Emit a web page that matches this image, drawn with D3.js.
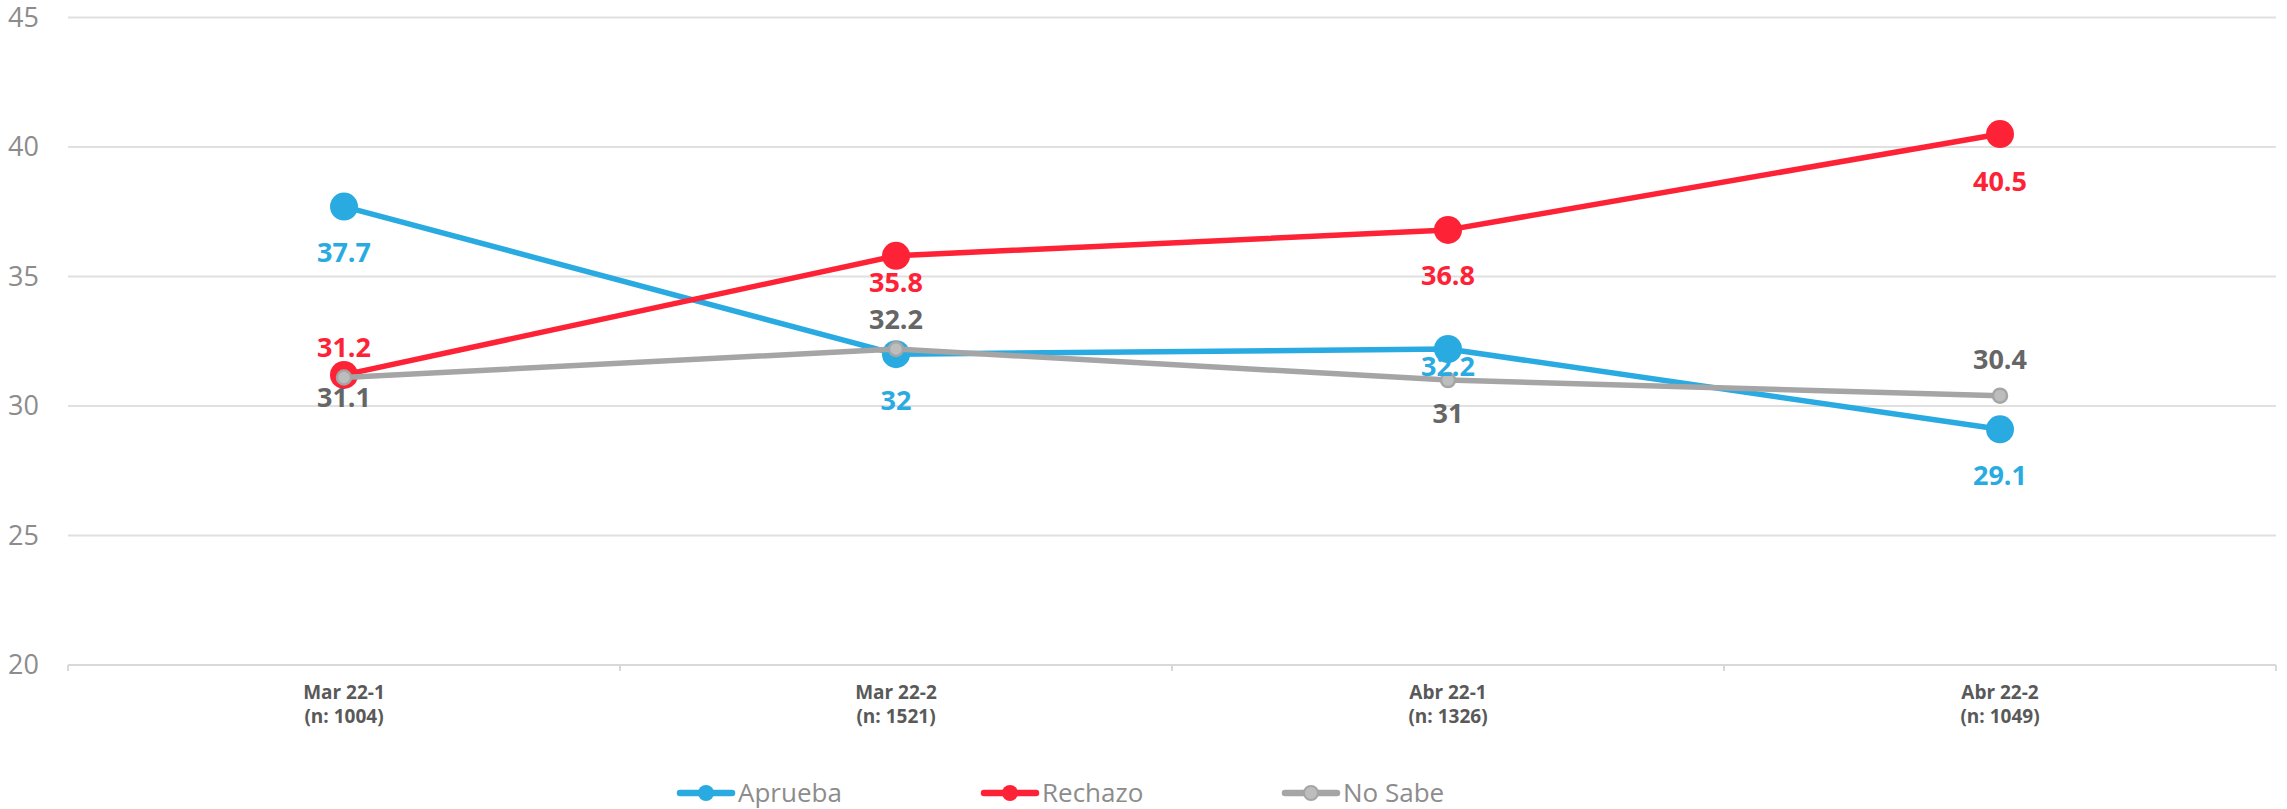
<!DOCTYPE html>
<html>
<head>
<meta charset="utf-8">
<script src="https://cdn.jsdelivr.net/npm/d3@7"></script>
<style>
  html, body { margin: 0; padding: 0; background: #ffffff; }
  svg { display: block; }
</style>
</head>
<body>
<svg id="chart" width="2287" height="809"></svg>
<script>
// Survey waves shown on the x axis (two-line labels)
const categories = ["Mar 22-1", "Mar 22-2", "Abr 22-1", "Abr 22-2"];
const sampleSizes = ["(n: 1004)", "(n: 1521)", "(n: 1326)", "(n: 1049)"];

// Series values
const seriesNames = ["Aprueba", "Rechazo", "No Sabe"];
const aprueba = [37.7, 32, 32.2, 29.1];
const rechazo = [31.2, 35.8, 36.8, 40.5];
const noSabe = [31.1, 32.2, 31, 30.4];

// Y axis ticks
const yTicks = [20, 25, 30, 35, 40, 45];

// ---- layout & style ----
const W = 2287, H = 809;
const plot = { left: 68, right: 2276, top: 17.5, bottom: 665 };
const colors = { "Aprueba": "#29abe2", "Rechazo": "#fe2236", "No Sabe": "#a5a5a5" };
const labelColors = { "Aprueba": "#29abe2", "Rechazo": "#fe2236", "No Sabe": "#666666" };
// vertical offset of each value label from its point (px)
const labelDy = {
  "Aprueba": [46, 46, 18, 46],
  "Rechazo": [-27, 27, 46, 47],
  "No Sabe": [20, -29, 33, -36]
};

const svg = d3.select("#chart");

const x = d3.scaleBand().domain(categories).range([plot.left, plot.right]);
const y = d3.scaleLinear().domain([20, 45]).range([plot.bottom, plot.top]);
const cx = c => x(c) + x.bandwidth() / 2;

// Horizontal gridlines
svg.append("g")
  .selectAll("line")
  .data(yTicks.filter(t => t !== 20))
  .join("line")
  .attr("x1", plot.left).attr("x2", plot.right)
  .attr("y1", d => y(d)).attr("y2", d => y(d))
  .attr("stroke", "#e0e0e0").attr("stroke-width", 2);

// Y axis labels
const yAxis = d3.axisLeft(y).tickValues(yTicks).tickSize(0).tickPadding(29);
const gy = svg.append("g").attr("transform", `translate(${plot.left},0)`).call(yAxis);
gy.select(".domain").remove();
gy.selectAll("text")
  .attr("font-family", "'Open Sans', sans-serif")
  .attr("font-size", 27)
  .attr("fill", "#8c8c8c");

// X axis baseline with category boundary ticks
const gx = svg.append("g").attr("transform", `translate(0,${plot.bottom})`);
gx.append("line")
  .attr("x1", plot.left).attr("x2", plot.right)
  .attr("stroke", "#d9d9d9").attr("stroke-width", 2);
const boundaries = categories.map(c => x(c)).concat([plot.right]);
gx.selectAll("line.tick")
  .data(boundaries)
  .join("line")
  .attr("class", "tick")
  .attr("x1", d => d).attr("x2", d => d)
  .attr("y1", 0).attr("y2", 6)
  .attr("stroke", "#d9d9d9").attr("stroke-width", 2);

const xl = gx.selectAll("text.cat")
  .data(categories)
  .join("text")
  .attr("class", "cat")
  .attr("text-anchor", "middle")
  .attr("font-family", "'Open Sans', sans-serif")
  .attr("font-weight", "bold")
  .attr("font-size", 19)
  .attr("fill", "#595959");
xl.append("tspan").attr("x", d => cx(d)).attr("y", 34).text(d => d);
xl.append("tspan").attr("x", d => cx(d)).attr("y", 58).text((d, i) => sampleSizes[i]);

// Series lines and markers
const series = [
  { name: "Aprueba", values: aprueba, r: 14 },
  { name: "Rechazo", values: rechazo, r: 14 },
  { name: "No Sabe", values: noSabe, r: 7 }
];

const line = d3.line()
  .x((d, i) => cx(categories[i]))
  .y(d => y(d));

series.forEach(s => {
  const g = svg.append("g");
  g.append("path")
    .datum(s.values)
    .attr("d", line)
    .attr("fill", "none")
    .attr("stroke", colors[s.name])
    .attr("stroke-width", 5.5)
    .attr("stroke-linejoin", "round");
  g.selectAll("circle")
    .data(s.values)
    .join("circle")
    .attr("cx", (d, i) => cx(categories[i]))
    .attr("cy", d => y(d))
    .attr("r", s.r)
    .attr("fill", s.name === "No Sabe" ? "#bdbdbd" : colors[s.name])
    .attr("stroke", s.name === "No Sabe" ? "#a5a5a5" : "none")
    .attr("stroke-width", 2.5);
});

// Value labels
series.forEach(s => {
  svg.append("g")
    .selectAll("text")
    .data(s.values)
    .join("text")
    .attr("x", (d, i) => cx(categories[i]))
    .attr("y", (d, i) => y(d) + labelDy[s.name][i])
    .attr("dy", "0.35em")
    .attr("text-anchor", "middle")
    .attr("font-family", "'Open Sans', sans-serif")
    .attr("font-weight", "bold")
    .attr("font-size", 27)
    .attr("fill", labelColors[s.name])
    .text(d => d);
});

// Legend
const legendX = [678, 982, 1283];
const legendY = 793;
const lg = svg.append("g");
seriesNames.forEach((name, i) => {
  const g = lg.append("g").attr("transform", `translate(${legendX[i]},${legendY})`);
  g.append("line")
    .attr("x1", 2).attr("x2", 54)
    .attr("stroke", colors[name]).attr("stroke-width", 6.5)
    .attr("stroke-linecap", "round");
  g.append("circle")
    .attr("cx", 28).attr("r", name === "No Sabe" ? 7 : 8)
    .attr("fill", name === "No Sabe" ? "#bdbdbd" : colors[name])
    .attr("stroke", name === "No Sabe" ? "#a5a5a5" : "none")
    .attr("stroke-width", 2);
  g.append("text")
    .attr("x", 60).attr("y", 0)
    .attr("dy", "0.35em")
    .attr("font-family", "'Open Sans', sans-serif")
    .attr("font-size", 26)
    .attr("fill", "#8c8c8c")
    .text(name);
});
</script>
</body>
</html>
